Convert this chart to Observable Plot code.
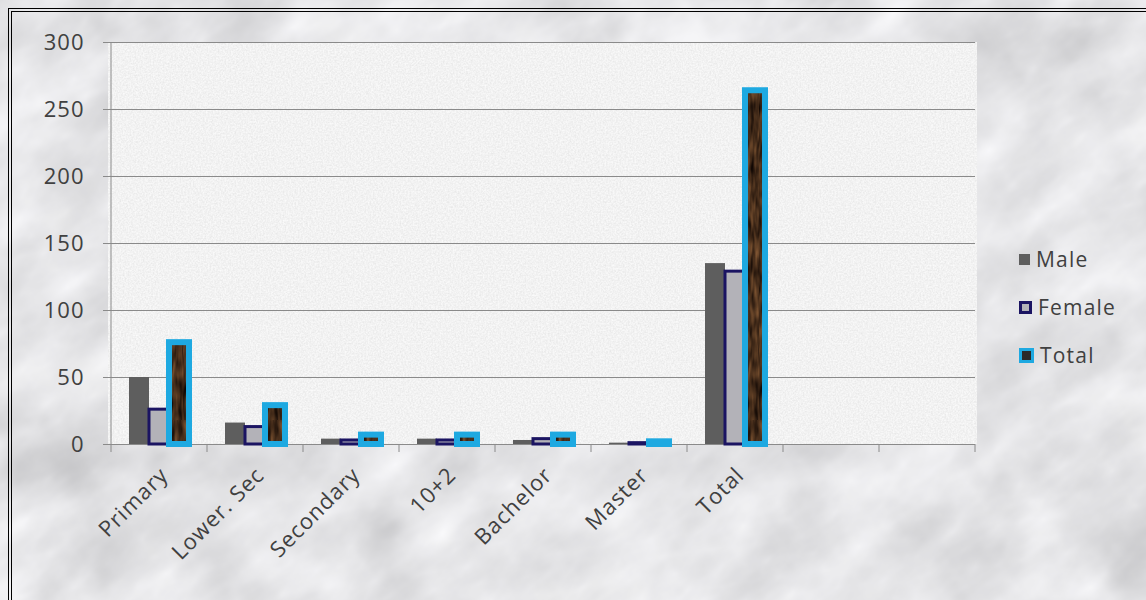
<!DOCTYPE html>
<html>
<head>
<meta charset="utf-8">
<script src="https://cdn.jsdelivr.net/npm/d3@7"></script>
<script src="https://cdn.jsdelivr.net/npm/@observablehq/plot@0.6"></script>
<style>
  html, body { margin: 0; padding: 0; background: #fff; overflow: hidden; }
  #page { position: relative; width: 1146px; height: 600px; overflow: hidden; }
  #backdrop { position: absolute; left: 0; top: 0; }
  #border { position: absolute; left: 8px; top: 8px; width: 1200px; height: 700px;
            border: 4px double #000; box-sizing: border-box; }
  #chart { position: absolute; left: 0; top: 0; }
  #chart svg text { letter-spacing: 1px; }
  #legend { position: absolute; left: 1019px; top: 235px; font-family: "Open Sans", sans-serif;
            font-size: 21px; color: #404040; letter-spacing: 1.2px; }
  #legend .row { display: flex; align-items: center; height: 48px; }
  #legend .sw { box-sizing: border-box; margin-right: 6px; }
</style>
</head>
<body>
<div id="page">
  <svg id="backdrop" width="1146" height="600">
    <defs>
      <filter id="marble" x="0" y="0" width="100%" height="100%" filterUnits="objectBoundingBox">
        <feTurbulence type="fractalNoise" baseFrequency="0.01" numOctaves="4" seed="3" result="cloudRaw"/>
        <feColorMatrix in="cloudRaw" type="matrix" values="1 0 0 0 0  1 0 0 0 0  1 0 0 0 0  0 0 0 0 1" result="cloudGray"/>
        <feComponentTransfer in="cloudGray" result="cloud">
          <feFuncR type="table" tableValues="1 1 0.97 0.9 0.8 0.72"/>
          <feFuncG type="table" tableValues="1 1 0.97 0.9 0.8 0.72"/>
          <feFuncB type="table" tableValues="1 1 0.98 0.91 0.81 0.73"/>
        </feComponentTransfer>
        <feTurbulence type="turbulence" baseFrequency="0.006 0.012" numOctaves="5" seed="11" result="veinRaw"/>
        <feColorMatrix in="veinRaw" type="matrix" values="0.33 0.33 0.33 0 0  0.33 0.33 0.33 0 0  0.33 0.33 0.33 0 0  0 0 0 0 1" result="veinGray"/>
        <feComponentTransfer in="veinGray" result="vein">
          <feFuncR type="table" tableValues="0.97 0.92 0.84 0.76 0.7 0.66 0.64"/>
          <feFuncG type="table" tableValues="0.97 0.92 0.84 0.76 0.7 0.66 0.64"/>
          <feFuncB type="table" tableValues="0.98 0.93 0.85 0.77 0.71 0.67 0.65"/>
        </feComponentTransfer>
        <feBlend in="cloud" in2="vein" mode="multiply"/>
        <feGaussianBlur stdDeviation="1.3"/>
      </filter>
      <filter id="speckle" x="0" y="0" width="100%" height="100%" filterUnits="objectBoundingBox">
        <feTurbulence type="fractalNoise" baseFrequency="0.6" numOctaves="2" seed="4"/>
        <feColorMatrix type="matrix" values="1 0 0 0 0  1 0 0 0 0  1 0 0 0 0  0 0 0 0 1"/>
        <feComponentTransfer>
          <feFuncR type="table" tableValues="0.99 0.93 0.85 0.77"/>
          <feFuncG type="table" tableValues="0.99 0.93 0.85 0.77"/>
          <feFuncB type="table" tableValues="0.99 0.93 0.85 0.77"/>
        </feComponentTransfer>
      </filter>
      <filter id="wood" x="0" y="0" width="100%" height="100%" filterUnits="objectBoundingBox"
              color-interpolation-filters="sRGB">
        <feTurbulence type="fractalNoise" baseFrequency="0.25 0.05" numOctaves="2" seed="8"/>
        <feColorMatrix type="matrix" values="0.6 0 0 0 -0.02  0.42 0 0 0 -0.03  0.25 0 0 0 -0.02  0 0 0 0 1"/>
      </filter>
      <!-- brown grain used inside the Total bars -->
      <pattern id="woodGrain" patternUnits="userSpaceOnUse" width="60" height="420">
        <rect width="60" height="420" filter="url(#wood)"/>
      </pattern>
    </defs>
    <g transform="rotate(-35 573 300)">
      <rect x="-400" y="-500" width="2000" height="1600" filter="url(#marble)"/>
    </g>
    <rect id="plotArea" x="108" y="42" width="869" height="402" filter="url(#speckle)"/>
  </svg>
  <div id="border"></div>
  <div id="chart"></div>
  <div id="legend"></div>
</div>
<script>
// Education level categories and the three series drawn for each
const categories = ["Primary", "Lower. Sec", "Secondary", "10+2", "Bachelor", "Master", "Total"];
const blankSlots = ["", " "]; // two unused category slots at the right of the axis
const slots = categories.concat(blankSlots);
const series = ["Male", "Female", "Total"];

const male   = [50, 16, 4, 4, 3, 1, 135];
const female = [26, 13, 3, 3, 4, 1, 129];
const total  = [76, 29, 7, 7, 7, 2, 264];

const yTicks = [0, 50, 100, 150, 200, 250, 300];

// Long-format table built from the arrays above
const rows = categories.flatMap((c, i) => [
  {category: c, series: "Male", value: male[i]},
  {category: c, series: "Female", value: female[i]},
  {category: c, series: "Total", value: total[i]}
]);

const styles = {
  Male:   {fill: "#5e5e5e", stroke: "none", strokeWidth: 0},
  Female: {fill: "#b3b2b8", stroke: "#1b1462", strokeWidth: 3},
  Total:  {fill: "url(#woodGrain)", stroke: "#1ea9e1", strokeWidth: 6}
};

const M = {left: 108, right: 169, top: 42, bottom: 156};

const chart = Plot.plot({
  width: 1146,
  height: 600,
  marginLeft: M.left,
  marginRight: M.right,
  marginTop: M.top,
  marginBottom: M.bottom,
  style: {background: "transparent", fontFamily: "'Open Sans', sans-serif", fontSize: "22px", color: "#404040", overflow: "visible"},
  fx: {domain: slots, padding: 0, label: null},
  x: {domain: series, paddingInner: 0, paddingOuter: 0.8, axis: null},
  y: {domain: [0, 300], label: null},
  marks: [
    // category baseline, one segment per slot (keeps the unused slots in the layout)
    Plot.ruleY(slots, {fx: d => d, y: 0, stroke: "#8a8a8a"}),
    Plot.gridY(yTicks, {stroke: "#8a8a8a", strokeOpacity: 1}),
    ...series.map(s => Plot.barY(rows.filter(d => d.series === s), {
      fx: "category", x: "series", y: "value", ...styles[s]
    })),
    Plot.axisY(yTicks, {tickSize: 8, tickPadding: 19, stroke: "#8a8a8a", fill: "#404040", label: null}),
    Plot.axisFx({anchor: "bottom", tickRotate: -45, tickSize: 0, tickPadding: 27, dx: 5, fill: "#404040", label: null})
  ]
});

document.getElementById("chart").appendChild(chart);

// Vertical axis line and the between-category tick marks of the category axis
const fx = chart.scale("fx");
const y = chart.scale("y");
const g = d3.select(chart).append("g").attr("stroke", "#8a8a8a");
const x0 = fx.apply(fx.domain[0]);
g.append("line").attr("x1", x0).attr("x2", x0).attr("y1", y.apply(300)).attr("y2", y.apply(0));
const edges = fx.domain.map(d => fx.apply(d)).concat([fx.apply(fx.domain[fx.domain.length - 1]) + fx.bandwidth]);
g.selectAll(".edge").data(edges).join("line")
  .attr("x1", d => d).attr("x2", d => d)
  .attr("y1", y.apply(0)).attr("y2", y.apply(0) + 8);

// Legend
const legend = d3.select("#legend");
const swatch = {
  Male:   {size: 11, bg: "#5e5e5e", border: "none"},
  Female: {size: 13, bg: "#b3b2b8", border: "3px solid #1b1462"},
  Total:  {size: 15, bg: "#2b2a2a", border: "3px solid #1ea9e1"}
};
series.forEach(s => {
  const row = legend.append("div").attr("class", "row");
  row.append("div").attr("class", "sw")
    .style("width", swatch[s].size + "px").style("height", swatch[s].size + "px")
    .style("background", swatch[s].bg).style("border", swatch[s].border);
  row.append("span").text(s);
});
</script>
</body>
</html>
